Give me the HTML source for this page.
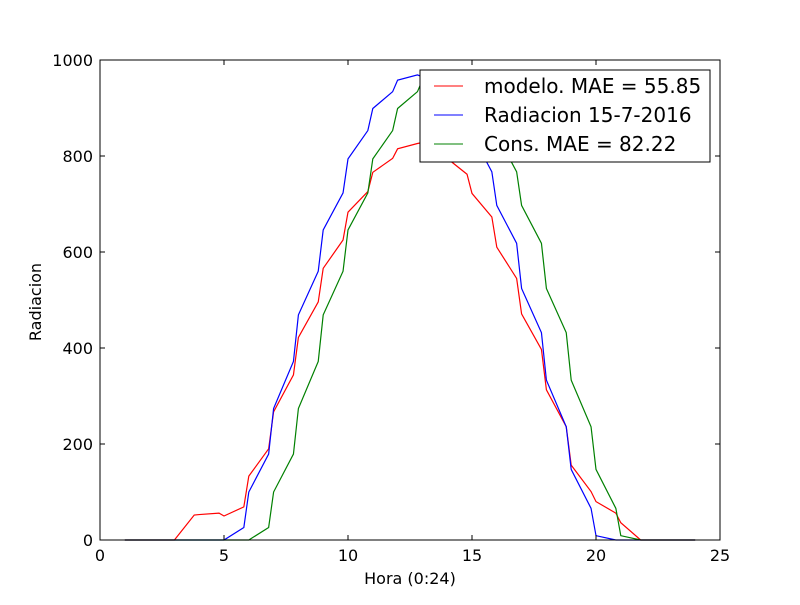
<!DOCTYPE html>
<html><head><meta charset="utf-8"><style>
body{margin:0;background:#fff;font-family:"Liberation Sans","DejaVu Sans",sans-serif}
svg text{font-family:"DejaVu Sans","Liberation Sans",sans-serif;fill:#000}
</style></head><body>
<svg id="chart" width="800" height="600" xmlns="http://www.w3.org/2000/svg">
<rect x="0" y="0" width="800" height="600" fill="#fff"/>
<g id="plot"></g>
<rect x="100" y="60" width="620" height="480" fill="none" stroke="#000" stroke-width="1"/>
<g id="axes"></g>
<text x="410" y="584" font-size="16" text-anchor="middle">Hora (0:24)</text>
<text x="41" y="302" font-size="16" text-anchor="middle" transform="rotate(-90 41 302)">Radiacion</text>
<g>
<rect x="420" y="70" width="290" height="92" fill="#fff" stroke="#000" stroke-width="1"/>
<line x1="434" y1="86" x2="463" y2="86" stroke="#ff0000"/>
<text x="484" y="93" font-size="20">modelo. MAE = 55.85</text>
<line x1="434" y1="115" x2="463" y2="115" stroke="#0000ff"/>
<text x="484" y="122" font-size="20">Radiacion 15-7-2016</text>
<line x1="434" y1="144" x2="463" y2="144" stroke="#008000"/>
<text x="484" y="151" font-size="20">Cons. MAE = 82.22</text>
</g>
</svg>
<script>
const hours=[1,1.8,2,2.8,3,3.8,4,4.8,5,5.8,6,6.8,7,7.8,8,8.8,9,9.8,10,10.8,11,11.8,12,12.8,13,13.8,14,14.8,15,15.8,16,16.8,17,17.8,18,18.8,19,19.8,20,20.8,21,21.8,22,22.8,23,23.8,24];
const modelo=[0,0,0,0,0,52,53,56,50,69,133,190,267,344,422,496,566,625,683,726,766,795,815,826,828,810,795,762,722,673,610,545,471,397,313,236,156,101,80,56,36,0,0,0,0,0,0];
const radiacion=[0,0,0,0,0,0,0,0,0,26,100,179,274,372,469,560,646,723,794,853,899,934,958,969,965,940,925,870,845,767,697,618,524,432,333,236,147,66,9,0,0,0,0,0,0,0,0];
const cons=[0,0,0,0,0,0,0,0,0,0,0,26,100,179,274,372,469,560,646,723,794,853,899,934,958,969,965,940,925,870,845,767,697,618,524,432,333,236,147,66,9,0,0,0,0,0,0];
const xTicks=[0,5,10,15,20,25];
const yTicks=[0,200,400,600,800,1000];
const X0=100,X1=720,Y0=540,Y1=60;
const xs=v=>X0+(v-0)/(25-0)*(X1-X0);
const ys=v=>Y0-(v-0)/(1000-0)*(Y0-Y1);
const NS="http://www.w3.org/2000/svg";
const plot=document.getElementById('plot');
function line(vals,color,name){
  const p=document.createElementNS(NS,'polyline');
  p.setAttribute('points',hours.map((h,i)=>xs(h).toFixed(2)+','+ys(vals[i]).toFixed(2)).join(' '));
  p.setAttribute('fill','none');p.setAttribute('stroke',color);p.setAttribute('stroke-width','1.2');
  
  
  plot.appendChild(p);
}
line(modelo,'#ff0000','series-modelo');
line(radiacion,'#0000ff','series-radiacion');
line(cons,'#008000','series-cons');
const axes=document.getElementById('axes');
xTicks.forEach(t=>{
  const x=xs(t);
  [[Y0,Y0-5],[Y1,Y1+5]].forEach(([a,b])=>{const l=document.createElementNS(NS,'line');l.setAttribute('x1',x);l.setAttribute('x2',x);l.setAttribute('y1',a);l.setAttribute('y2',b);l.setAttribute('stroke','#000');
  
  axes.appendChild(l);});
  const tx=document.createElementNS(NS,'text');tx.setAttribute('x',x);tx.setAttribute('y',Y0+21);tx.setAttribute('font-size','16');tx.setAttribute('text-anchor','middle');tx.textContent=t;
  
  axes.appendChild(tx);
});
yTicks.forEach(t=>{
  const y=ys(t);
  [[X0,X0+5],[X1,X1-5]].forEach(([a,b])=>{const l=document.createElementNS(NS,'line');l.setAttribute('y1',y);l.setAttribute('y2',y);l.setAttribute('x1',a);l.setAttribute('x2',b);l.setAttribute('stroke','#000');
  
  axes.appendChild(l);});
  const tx=document.createElementNS(NS,'text');tx.setAttribute('x',X0-7);tx.setAttribute('y',y+6);tx.setAttribute('font-size','16');tx.setAttribute('text-anchor','end');tx.textContent=t;
  
  axes.appendChild(tx);
});
</script>
</body></html>
